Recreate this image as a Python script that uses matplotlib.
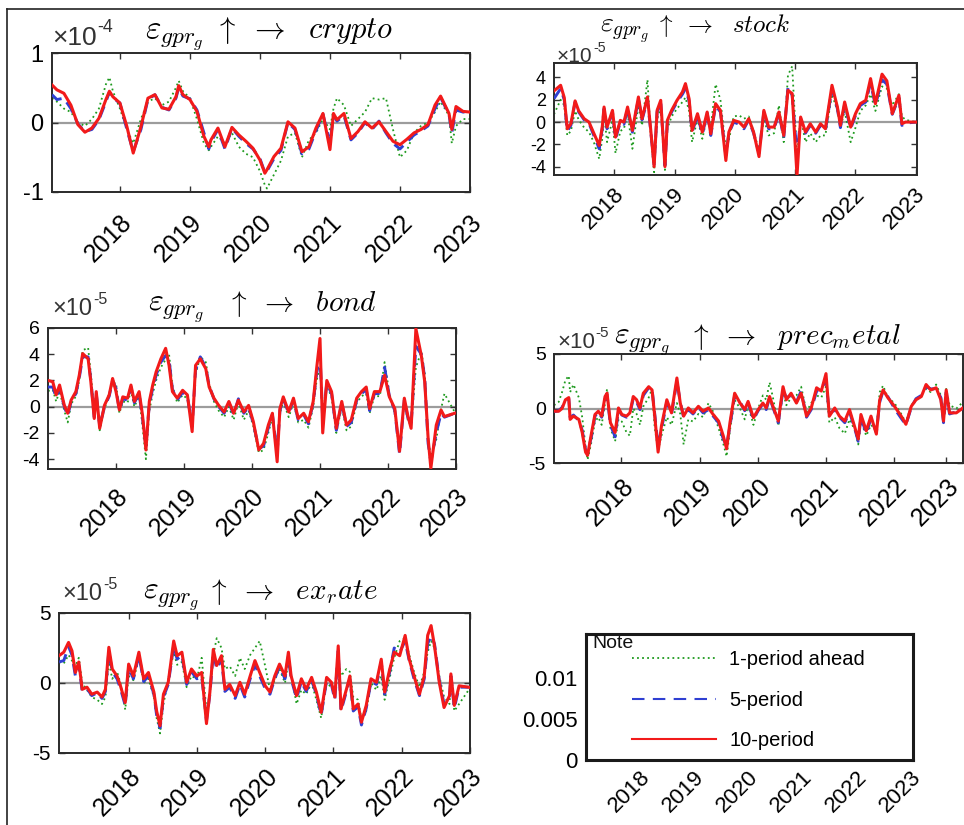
import matplotlib
matplotlib.use('Agg')
import matplotlib.pyplot as plt
import matplotlib.transforms as mtransforms
from matplotlib.lines import Line2D

plt.rcParams['font.family'] = ['Liberation Sans', 'DejaVu Sans']
plt.rcParams['mathtext.fontset'] = 'cm'
plt.rcParams['axes.unicode_minus'] = False

# ---------------- data (values in units of the x10^k label) ----------------
year_labels = ['2018', '2019', '2020', '2021', '2022', '2023']

# crypto, x1e-4
crypto_t = [2017.03, 2017.1, 2017.2, 2017.3, 2017.4, 2017.5, 2017.6, 2017.7, 2017.8, 2017.85,
            2017.9, 2018.0, 2018.1, 2018.19, 2018.3, 2018.4, 2018.5, 2018.6, 2018.7, 2018.8,
            2018.84, 2018.9, 2019.0, 2019.1, 2019.2, 2019.27, 2019.3, 2019.4, 2019.5, 2019.6,
            2019.7, 2019.8, 2019.9, 2020.0, 2020.07, 2020.1, 2020.2, 2020.3, 2020.4, 2020.5,
            2020.6, 2020.7, 2020.8, 2020.9, 2021.0, 2021.05, 2021.1, 2021.2, 2021.3, 2021.4,
            2021.5, 2021.6, 2021.7, 2021.8, 2021.9, 2022.0, 2022.1, 2022.2, 2022.3, 2022.4,
            2022.5, 2022.58, 2022.7, 2022.74, 2022.8, 2022.9, 2023.0]
crypto_10 = [0.54, 0.47, 0.42, 0.25, -0.03, -0.14, -0.08, 0.06, 0.33, 0.45,
             0.37, 0.28, -0.06, -0.44, -0.06, 0.35, 0.40, 0.21, 0.19, 0.37,
             0.53, 0.40, 0.33, 0.16, -0.20, -0.35, -0.25, -0.08, -0.35, -0.07,
             -0.18, -0.27, -0.37, -0.54, -0.73, -0.68, -0.49, -0.37, 0.01, -0.08,
             -0.42, -0.35, -0.08, 0.13, -0.39, 0.13, 0.04, 0.13, -0.23, -0.13,
             0.01, -0.08, 0.01, -0.13, -0.27, -0.32, -0.24, -0.15, -0.10, -0.03,
             0.25, 0.38, 0.13, -0.10, 0.23, 0.16, 0.15]
crypto_5 = [0.40, 0.33, 0.35, 0.20, -0.02, -0.13, -0.10, 0.04, 0.30, 0.44,
            0.35, 0.28, -0.10, -0.42, -0.10, 0.33, 0.40, 0.22, 0.18, 0.35,
            0.50, 0.38, 0.34, 0.18, -0.15, -0.38, -0.28, -0.10, -0.38, -0.08,
            -0.20, -0.30, -0.38, -0.52, -0.72, -0.70, -0.52, -0.40, 0.00, -0.10,
            -0.45, -0.38, -0.12, 0.12, -0.30, 0.10, 0.02, 0.10, -0.25, -0.15,
            0.00, -0.10, 0.02, -0.15, -0.30, -0.38, -0.28, -0.18, -0.12, -0.05,
            0.20, 0.36, 0.12, -0.15, 0.18, 0.15, 0.15]
crypto_1 = [0.35, 0.30, 0.20, 0.15, 0.00, -0.05, 0.05, 0.20, 0.55, 0.65,
            0.45, 0.20, -0.10, -0.30, 0.05, 0.30, 0.35, 0.25, 0.30, 0.50,
            0.60, 0.45, 0.35, 0.05, -0.30, -0.40, -0.35, -0.20, -0.30, -0.15,
            -0.35, -0.45, -0.50, -0.70, -0.90, -0.95, -0.75, -0.55, -0.20, -0.15,
            -0.50, -0.25, -0.15, 0.05, -0.10, 0.20, 0.35, 0.25, -0.05, 0.05,
            0.15, 0.35, 0.33, 0.35, -0.10, -0.50, -0.40, -0.15, -0.05, 0.00,
            0.15, 0.30, 0.10, -0.30, -0.05, 0.05, 0.05]

# stock, x1e-5
stock_t = [2017.00, 2017.11, 2017.17, 2017.22, 2017.28, 2017.35, 2017.41, 2017.50, 2017.58, 2017.66,
           2017.75, 2017.80, 2017.83, 2017.88, 2017.97, 2018.02, 2018.10, 2018.16, 2018.22, 2018.30,
           2018.40, 2018.46, 2018.55, 2018.60, 2018.66, 2018.71, 2018.77, 2018.84, 2018.88, 2018.95,
           2019.04, 2019.13, 2019.18, 2019.24, 2019.29, 2019.38, 2019.46, 2019.54, 2019.60, 2019.68,
           2019.76, 2019.85, 2019.90, 2019.98, 2020.07, 2020.15, 2020.23, 2020.31, 2020.40, 2020.48,
           2020.56, 2020.65, 2020.73, 2020.81, 2020.88, 2020.95, 2021.03, 2021.09, 2021.17, 2021.25,
           2021.34, 2021.42, 2021.50, 2021.61, 2021.70, 2021.75, 2021.82, 2021.92, 2022.00, 2022.08,
           2022.17, 2022.25, 2022.33, 2022.44, 2022.52, 2022.61, 2022.72, 2022.77, 2022.83, 2023.00]
stock_10 = [2.8, 3.3, 2.2, -0.6, -0.15, 1.9, 1.0, 0.3, 0.0, -1.0,
            -2.1, -0.45, 1.35, -0.45, 1.05, -1.35, 0.15, 0.0, 1.35, -0.75,
            2.25, 0.3, 2.25, -0.45, -4.0, 1.05, 1.95, -4.0, 0.15, 1.05,
            1.95, 2.7, 3.45, 2.1, -0.75, 0.75, -0.9, 0.9, -1.05, 1.65,
            1.05, -3.45, -0.9, 0.15, 0.0, -0.45, 0.3, -0.9, -3.1, 1.05,
            -0.45, -0.45, 0.9, -1.2, 2.85, 2.55, -4.8, 0.45, -0.9, -0.15,
            -0.9, -0.15, -0.6, 3.3, 1.35, -0.3, 1.8, -0.45, 0.75, 1.65,
            1.95, 3.9, 1.65, 4.3, 3.7, 0.75, 2.4, -0.15, 0.0, 0.0]
stock_5 = [2.1, 3.0, 2.0, -0.8, -0.3, 1.8, 0.9, 0.2, -0.1, -1.2,
           -2.4, -0.6, 1.2, -0.6, 0.9, -1.5, 0.0, -0.2, 1.2, -0.9,
           2.1, 0.2, 2.0, -0.6, -3.8, 0.9, 1.8, -3.9, 0.0, 0.9,
           1.8, 2.5, 3.0, 1.9, -0.9, 0.6, -1.1, 0.8, -1.2, 1.5,
           0.9, -3.0, -1.0, 0.0, -0.2, -0.6, 0.2, -1.0, -2.8, 0.9,
           -0.6, -0.6, 0.8, -1.4, 3.1, 2.4, -3.0, 0.3, -1.0, -0.3,
           -1.0, -0.3, -0.8, 3.0, 1.2, -0.5, 1.6, -0.6, 0.6, 1.5,
           1.8, 3.5, 1.5, 3.8, 3.4, 0.7, 2.2, -0.3, -0.1, 0.0]
stock_1 = [0.7, 2.0, 1.5, -1.2, -0.8, 1.0, 0.2, -0.5, -0.9, -1.8,
           -3.3, -1.5, 0.8, -1.8, 0.2, -2.8, -0.8, -0.6, 0.8, -2.4,
           1.5, -0.3, 3.8, -0.8, -4.5, 0.3, 1.2, -4.3, -0.6, 0.5,
           1.2, 1.8, 2.2, 1.0, -1.8, 0.3, -1.5, 0.5, -0.5, 3.4,
           2.0, -2.5, -1.6, 0.5, 0.6, 0.3, 0.5, -0.8, -2.6, 0.3,
           -1.2, -1.0, 1.5, -1.8, 4.2, 5.0, -3.2, 0.5, -1.8, -1.0,
           -1.8, -1.2, -1.2, 2.5, 1.0, -0.5, 1.0, -1.8, -0.5, 1.0,
           1.5, 2.5, 1.0, 3.2, 3.0, 1.5, 2.5, 0.5, 0.2, 0.0]

# bond, x1e-5
bond_t = [2017.00, 2017.07, 2017.12, 2017.17, 2017.24, 2017.29, 2017.34, 2017.41, 2017.46, 2017.51,
          2017.59, 2017.63, 2017.68, 2017.71, 2017.76, 2017.83, 2017.90, 2017.95, 2018.00, 2018.05,
          2018.10, 2018.17, 2018.22, 2018.27, 2018.34, 2018.39, 2018.44, 2018.49, 2018.54, 2018.59,
          2018.66, 2018.73, 2018.78, 2018.83, 2018.90, 2018.98, 2019.05, 2019.12, 2019.17, 2019.24,
          2019.32, 2019.37, 2019.44, 2019.51, 2019.59, 2019.66, 2019.73, 2019.80, 2019.88, 2019.95,
          2020.02, 2020.10, 2020.17, 2020.24, 2020.30, 2020.37, 2020.41, 2020.46, 2020.54, 2020.61,
          2020.68, 2020.76, 2020.83, 2020.90, 2020.95, 2021.00, 2021.04, 2021.10, 2021.17, 2021.24,
          2021.32, 2021.39, 2021.46, 2021.54, 2021.61, 2021.68, 2021.73, 2021.80, 2021.88, 2021.95,
          2022.02, 2022.10, 2022.17, 2022.24, 2022.29, 2022.34, 2022.41, 2022.49, 2022.54, 2022.59,
          2022.63, 2022.71, 2022.78, 2022.83, 2022.98]
bond_10 = [2.0, 1.9, 0.9, 1.65, 0.1, -0.5, 0.5, 1.15, 2.4, 4.05,
           3.65, 1.9, -0.9, 1.15, -1.65, 0.1, 0.9, 2.15, 1.15, -0.25,
           0.75, 0.65, 1.65, 0.4, 1.15, -0.65, -3.3, 0.4, 1.65, 2.65,
           3.65, 4.45, 3.15, 1.15, 0.65, 1.25, 0.9, -1.9, 3.15, 3.65,
           2.9, 1.5, 0.65, 0.1, -0.4, 0.4, -0.5, 0.5, -0.4, 0.1,
           -1.15, -3.3, -2.8, -1.4, -0.5, -4.2, -0.15, 0.75, -0.4, 0.65,
           -0.9, -0.5, -1.15, 0.4, 2.9, 5.2, -2.0, 2.0, 1.15, -1.65,
           0.4, -1.4, -1.0, 0.65, 1.15, 1.5, -0.15, 1.15, 1.15, 2.4,
           0.75, -0.15, -3.4, 0.65, -0.65, -1.65, 5.95, 3.9, 1.9, -2.4,
           -4.7, -1.4, -0.25, -0.75, -0.5]
bond_5 = [1.5, 1.5, 0.7, 1.4, 0.0, -0.7, 0.4, 1.0, 2.2, 3.8,
          3.8, 2.0, -0.8, 1.0, -1.5, 0.0, 0.8, 2.0, 1.4, -0.3,
          0.6, 0.5, 1.5, 0.3, 1.0, -0.9, -3.0, 0.2, 1.4, 2.4,
          3.4, 3.9, 3.6, 1.3, 0.5, 1.1, 0.8, -1.5, 2.8, 3.8,
          3.0, 1.6, 0.6, 0.0, -0.5, 0.3, -0.6, 0.6, -0.5, 0.0,
          -1.3, -3.2, -3.0, -1.6, -0.6, -3.5, -0.3, 0.6, -0.5, 0.5,
          -1.0, -0.6, -1.3, 0.3, 2.5, 4.0, -1.0, 1.8, 1.0, -1.8,
          0.3, -1.5, -1.2, 0.5, 1.0, 1.3, -0.3, 1.0, 1.0, 3.0,
          0.8, -0.3, -3.6, 0.5, -0.8, -1.4, 4.6, 4.0, 2.2, -2.8,
          -4.2, -2.0, -0.5, -0.8, -0.5]
bond_1 = [1.2, 1.3, 0.4, 1.2, -0.3, -1.2, 0.2, 0.8, 2.0, 4.3,
          4.5, 2.5, -0.5, 0.8, -1.8, -0.2, 1.0, 1.8, 1.8, -0.5,
          0.4, 0.3, 1.2, 0.0, 0.8, -1.5, -4.0, -0.3, 1.0, 2.0,
          3.0, 3.6, 4.0, 1.6, 0.3, 0.9, 0.6, -1.2, 2.5, 3.8,
          3.4, 1.8, 0.4, -0.3, -0.8, 0.0, -1.0, 0.3, -1.0, -0.3,
          -1.5, -3.5, -3.3, -2.0, -0.8, -3.0, -0.5, 0.4, -0.8, 0.3,
          -1.2, -1.0, -1.6, 0.0, 2.0, 3.0, -0.5, 1.5, 0.8, -2.0,
          0.0, -1.8, -1.5, 0.3, 0.8, 1.0, -0.5, 0.8, 0.8, 3.4,
          1.0, -0.5, -3.4, 0.3, -1.0, -1.5, 3.0, 4.2, 2.6, -2.5,
          -3.8, -2.5, -0.2, 1.0, -0.4]

# precious metal, x1e-5 (axis positions; year ticks are unevenly placed)
prec_t = [2017.00, 2017.07, 2017.12, 2017.17, 2017.22, 2017.24, 2017.29, 2017.37, 2017.42, 2017.47,
          2017.50, 2017.56, 2017.61, 2017.66, 2017.71, 2017.76, 2017.79, 2017.84, 2017.91, 2017.96,
          2018.01, 2018.08, 2018.13, 2018.18, 2018.23, 2018.28, 2018.33, 2018.41, 2018.46, 2018.50,
          2018.55, 2018.60, 2018.68, 2018.75, 2018.83, 2018.88, 2018.93, 2019.00, 2019.07, 2019.15,
          2019.22, 2019.30, 2019.37, 2019.45, 2019.52, 2019.57, 2019.62, 2019.69, 2019.77, 2019.84,
          2019.89, 2019.97, 2020.04, 2020.11, 2020.16, 2020.21, 2020.26, 2020.34, 2020.41, 2020.46,
          2020.53, 2020.61, 2020.68, 2020.76, 2020.83, 2020.91, 2020.98, 2021.05, 2021.10, 2021.18,
          2021.25, 2021.33, 2021.40, 2021.48, 2021.53, 2021.57, 2021.65, 2021.72, 2021.80, 2021.85,
          2021.90, 2021.97, 2022.07, 2022.17, 2022.24, 2022.32, 2022.39, 2022.47, 2022.54, 2022.61,
          2022.69, 2022.76, 2022.80, 2022.84, 2022.89, 2022.99, 2023.09]
prec_ticks = [2018.0, 2019.17, 2020.04, 2021.05, 2022.07, 2022.84]
prec_10 = [-0.25, -0.25, 0.0, 0.8, 1.0, -1.0, -0.7, -1.0, -2.2, -4.0,
           -4.3, -2.2, -0.55, -0.25, -0.7, 1.1, 1.4, -1.3, -2.2, 0.05,
           -0.55, -0.7, -0.4, 1.1, 0.8, 0.05, 1.4, 2.0, 1.7, -0.7,
           -4.0, -1.6, 0.8, -0.4, 2.8, 0.5, -0.7, 0.05, -0.4, 0.2,
           -0.25, 0.05, -0.55, -1.15, -2.5, -3.7, -1.3, 1.4, 0.5, -0.1,
           0.65, -0.85, -0.1, 0.5, 0.05, 1.1, 0.2, -1.15, 2.0, 0.8,
           1.4, 0.5, 1.4, -0.7, 0.05, 1.9, 1.6, 3.2, -0.7, 0.05,
           -0.7, -1.15, -0.1, -1.75, -2.8, -0.55, -2.05, -0.7, -2.35, 0.8,
           1.7, 1.0, 0.2, -0.7, -1.45, 0.2, 0.8, 1.1, 2.2, 1.7,
           1.9, 0.8, -1.15, 1.7, -0.4, -0.4, 0.05]
prec_5 = [-0.3, -0.2, 0.1, 0.7, 0.9, -0.8, -0.6, -1.1, -2.0, -3.8,
          -4.1, -2.5, -0.7, -0.3, -0.8, 0.9, 1.2, -1.5, -2.6, -0.1,
          -0.6, -0.8, -0.5, 0.9, 0.6, -0.1, 1.2, 1.9, 1.8, -0.5,
          -3.5, -1.9, 0.6, -0.5, 2.5, 0.6, -0.8, -0.1, -0.5, 0.1,
          -0.4, -0.1, -0.7, -1.3, -2.8, -3.4, -1.6, 1.2, 0.6, -0.2,
          0.5, -1.0, -0.2, 0.4, -0.1, 1.0, 0.1, -1.3, 1.7, 1.0,
          1.2, 0.6, 1.6, -0.8, -0.1, 1.6, 1.8, 2.6, -0.5, -0.1,
          -0.8, -1.3, -0.3, -1.9, -3.0, -0.8, -2.3, -0.9, -2.2, 0.6,
          1.6, 1.1, 0.0, -0.9, -1.5, 0.1, 0.9, 1.2, 2.0, 1.8,
          1.8, 1.0, -1.3, 1.5, -0.5, -0.3, 0.0]
prec_1 = [0.3, 0.6, 1.5, 2.6, 3.0, 1.5, 2.2, 1.0, -0.8, -3.5,
          -4.7, -3.0, -1.2, -0.8, -1.5, 0.5, 1.8, -1.8, -3.0, -1.0,
          -1.2, -2.2, -2.5, 0.0, -0.5, -1.5, 0.2, 1.0, 1.8, -1.8,
          -3.8, -2.5, -0.8, -1.5, 0.5, -0.5, -3.3, -1.0, -1.2, -0.5,
          -0.8, 0.5, -0.3, -1.8, -3.2, -4.4, -2.0, 0.8, 0.0, -1.0,
          0.3, -1.5, 0.0, 1.2, 0.8, 2.4, 1.0, -1.6, 1.5, 0.3,
          1.0, 1.2, 2.0, -0.3, 0.5, 1.2, 1.0, 2.0, -1.3, -0.8,
          -1.8, -2.3, -1.0, -2.0, -3.3, -1.2, -2.5, -1.5, -2.0, 1.5,
          2.1, 1.0, 0.5, -0.5, -1.3, 0.3, 0.8, 1.2, 1.8, 1.5,
          2.2, 1.2, -0.5, 1.8, 0.3, 0.0, 0.6]

# exchange rate, x1e-5
exr_t = [2016.98, 2017.05, 2017.12, 2017.17, 2017.22, 2017.27, 2017.32, 2017.39, 2017.46, 2017.54,
         2017.61, 2017.66, 2017.71, 2017.76, 2017.83, 2017.88, 2017.95, 2018.00, 2018.07, 2018.15,
         2018.22, 2018.29, 2018.37, 2018.41, 2018.46, 2018.51, 2018.58, 2018.66, 2018.71, 2018.78,
         2018.85, 2018.92, 2019.00, 2019.07, 2019.14, 2019.19, 2019.24, 2019.29, 2019.36, 2019.41,
         2019.48, 2019.56, 2019.63, 2019.70, 2019.78, 2019.85, 2019.92, 2020.00, 2020.07, 2020.14,
         2020.21, 2020.29, 2020.34, 2020.38, 2020.46, 2020.53, 2020.60, 2020.68, 2020.75, 2020.82,
         2020.90, 2020.97, 2021.02, 2021.07, 2021.11, 2021.19, 2021.24, 2021.29, 2021.36, 2021.41,
         2021.48, 2021.55, 2021.63, 2021.70, 2021.75, 2021.82, 2021.89, 2021.97, 2022.05, 2022.11,
         2022.18, 2022.26, 2022.33, 2022.38, 2022.43, 2022.48, 2022.55, 2022.62, 2022.70, 2022.72,
         2022.77, 2022.84, 2022.98]
exr_10 = [1.95, 2.2, 2.9, 2.3, 0.75, 1.5, -0.45, -0.3, -0.8, -0.65,
          -1.0, -0.45, 2.55, 1.0, 0.5, -0.2, -1.4, 1.35, 0.5, 2.2,
          0.3, 0.75, -0.65, -2.0, -3.05, -0.8, 0.05, 3.0, 1.95, 2.2,
          0.05, 1.0, 0.5, 0.75, -2.9, -0.65, 2.4, 1.25, 1.95, -0.45,
          -0.1, -0.9, 0.05, -0.8, 0.5, 1.6, 0.75, -0.2, -0.65, 0.5,
          1.35, 0.5, 2.2, 0.5, -0.9, 0.3, -0.45, 0.4, -0.65, -2.1,
          0.4, 0.05, -1.0, 2.65, -1.85, -0.45, 0.5, -1.85, -1.5, -2.8,
          -1.6, 0.3, 0.05, 1.7, -0.65, 0.9, 2.2, 1.95, 3.4, 1.7,
          0.5, -0.8, 0.5, 3.4, 4.1, 2.65, 0.05, -1.75, -0.9, 0.65,
          -1.6, -0.2, -0.3]
exr_5 = [1.5, 1.6, 2.6, 2.0, 0.5, 1.3, -0.6, -0.4, -0.9, -0.7,
         -1.1, -0.6, 2.3, 0.8, 0.3, -0.4, -1.6, 1.1, 0.3, 2.0,
         0.1, 0.5, -0.8, -2.3, -3.2, -1.0, -0.1, 2.7, 1.7, 2.0,
         -0.1, 0.8, 0.3, 0.5, -2.7, -0.8, 2.2, 1.0, 1.7, -0.6,
         -0.3, -1.1, -0.1, -1.0, 0.3, 1.3, 0.5, -0.4, -0.8, 0.3,
         1.2, 0.3, 1.9, 0.3, -1.1, 0.1, -0.6, 0.2, -0.8, -2.3,
         0.2, -0.1, -1.2, 2.3, -2.0, -0.6, 0.3, -2.0, -1.7, -3.0,
         -1.8, 0.1, -0.1, 1.5, -0.8, 0.7, 2.5, 2.2, 3.0, 1.6,
         0.3, -0.9, 0.3, 2.8, 3.4, 2.8, 0.2, -1.5, -1.0, 0.5,
         -1.8, -0.3, -0.3]
exr_1 = [1.5, 1.4, 2.0, 1.6, 1.2, 1.8, 0.0, -0.5, -1.0, -1.2,
         -1.5, -1.0, 1.5, 0.3, 0.8, 0.0, -1.9, 0.5, 0.2, 1.8,
         0.0, 0.3, -1.0, -2.5, -3.6, -1.5, 0.2, 2.2, 1.3, 1.5,
         -0.3, 0.5, 0.3, 1.8, -2.0, -0.8, 2.0, 3.2, 2.5, 1.0,
         1.2, 0.5, 1.8, 1.0, 2.0, 2.5, 3.0, 1.2, -0.5, 0.2,
         1.0, 0.0, 1.5, 0.6, -1.5, -0.5, -0.8, 0.0, -1.2, -2.5,
         0.0, -0.3, -0.5, 1.8, 0.5, 1.0, 0.8, -1.0, -1.2, -2.6,
         -2.0, 0.0, -0.5, 0.5, -1.2, 0.3, 1.8, 3.0, 3.2, 2.0,
         0.8, -0.3, 0.8, 2.2, 3.0, 2.5, 0.5, -1.0, -1.5, 0.3,
         -2.0, -1.5, -0.5]

legend_labels = ['1-period ahead', '5-period', '10-period']

GREEN = '#1e9a1e'
BLUE = '#2f3fd2'
RED = '#f21a1a'

W, H = 964, 825
fig = plt.figure(figsize=(W / 100, H / 100), dpi=100)


def box(l, t, r, b):
    # pixel box -> figure fraction
    return [l / W, 1 - b / H, (r - l) / W, (b - t) / H]


def ftext(x, y, s, **kw):
    return fig.text(x / W, 1 - y / H, s, **kw)


def panel(rect, t, g, b, r, xlim, ylim, yticks, xticks, ysize, xsize, pad):
    ax = fig.add_axes(rect)
    ax.axhline(0, color='#9c9c9c', lw=1.6, zorder=1)
    ax.plot(t, g, color=GREEN, ls=(0, (1, 1.8)), lw=1.3, zorder=2)
    ax.plot(t, b, color=BLUE, ls=(0, (4, 2.5)), lw=2.1, zorder=3)
    ax.plot(t, r, color=RED, lw=2.2, zorder=4)
    ax.set_xlim(*xlim)
    ax.set_ylim(*ylim)
    ax.set_yticks(yticks)
    ax.set_yticklabels([('%g' % v) for v in yticks], fontsize=ysize)
    ax.set_xticks(xticks)
    ax.set_xticklabels(year_labels, rotation=45, ha='center', fontsize=xsize)
    ax.tick_params(direction='in', length=4, width=1, top=True, right=True, color='#333333')
    ax.tick_params(axis='x', pad=pad)
    ax.tick_params(axis='y', pad=6)
    shift = mtransforms.ScaledTranslation(-0.11, 0, fig.dpi_scale_trans)
    for lab in ax.get_xticklabels():
        lab.set_transform(lab.get_transform() + shift)
    for s in ax.spines.values():
        s.set_linewidth(1.4)
        s.set_color('#2a2a2a')
    return ax


def exponent(x, y, power, size):
    ftext(x, y, '\u00d710', fontsize=size, va='center', ha='left', color='#333333')
    ftext(x + size * 2.4, y - size * 0.55, power, fontsize=size * 0.68, va='center', ha='left',
          color='#333333')


def title(x_eps, x_arrow, y, word, s_eps, s_word):
    ftext(x_eps, y, r'$\varepsilon_{gpr_g}$', fontsize=s_eps, ha='left', va='baseline')
    ftext(x_arrow, y, r'$\uparrow\ \rightarrow\ \ %s$' % word, fontsize=s_word, ha='left', va='baseline')


years = [2018, 2019, 2020, 2021, 2022, 2023]

# crypto
panel(box(52, 53, 470, 192), crypto_t, crypto_1, crypto_5, crypto_10,
      (2017.03, 2023.0), (-1, 1), [-1, 0, 1], years, 17, 18, 13)
exponent(52, 38, '-4', 19)
title(145, 214, 38, 'crypto', 24, 22)

# stock
panel(box(554, 63, 917, 175), stock_t, stock_1, stock_5, stock_10,
      (2017.0, 2023.02), (-4.75, 5.3), [-4, -2, 0, 2, 4], years, 13, 16, 6)
exponent(557, 56, '-5', 15)
title(600, 655, 32, 'stock', 20, 18)

# bond
panel(box(48, 328, 456, 469), bond_t, bond_1, bond_5, bond_10,
      (2017.0, 2023.0), (-4.75, 6), [-4, -2, 0, 2, 4, 6], years, 14, 18, 11)
exponent(52, 309, '-5', 17)
title(148, 226, 311, 'bond', 23, 21)

# precious metal
panel(box(554, 354, 963, 463), prec_t, prec_1, prec_5, prec_10,
      (2017.0, 2023.09), (-5, 5), [-5, 0, 5], prec_ticks, 14, 18, 8)
exponent(557, 342, '-5', 16)
title(614, 688, 344, 'prec_metal', 23, 21)

# exchange rate
panel(box(59, 613, 470, 753), exr_t, exr_1, exr_5, exr_10,
      (2016.98, 2023.0), (-5, 5), [-5, 0, 5], years, 15, 18, 8)
exponent(62, 594, '-5', 17)
title(143, 206, 599, 'ex_rate', 23, 21)

# legend panel
ax6 = fig.add_axes(box(586, 634, 913, 760))
ax6.set_xlim(2017.05, 2023.09)
ax6.set_ylim(0, 0.0154)
ax6.set_yticks([0, 0.005, 0.01])
ax6.set_yticklabels(['0', '0.005', '0.01'], fontsize=16)
ax6.set_xticks(years)
ax6.set_xticklabels(year_labels, rotation=45, ha='center', fontsize=16)
ax6.tick_params(length=0, pad=5)
ax6.tick_params(axis='y', pad=6)
shift6 = mtransforms.ScaledTranslation(-0.08, 0, fig.dpi_scale_trans)
for lab in ax6.get_xticklabels():
    lab.set_transform(lab.get_transform() + shift6)
for s in ax6.spines.values():
    s.set_linewidth(2.2)
    s.set_color('#1a1a1a')
handles = [Line2D([], [], color=GREEN, ls=(0, (1, 1.8)), lw=1.3),
           Line2D([], [], color=BLUE, ls=(0, (6, 4)), lw=1.5),
           Line2D([], [], color=RED, lw=1.5)]
ax6.legend(handles, legend_labels, loc='upper left', bbox_to_anchor=(0.14, 0.87), frameon=False,
           fontsize=14.5, handlelength=4.2, handletextpad=0.65, labelspacing=1.07,
           borderpad=0, borderaxespad=0)
ax6.text(0.02, 0.995, 'Note', transform=ax6.transAxes, fontsize=14, va='top', ha='left', color='#111111')

# outer frame
fig.add_artist(Line2D([7 / W, 7 / W], [0, 1 - 9 / H], transform=fig.transFigure, color='#222222', lw=1.2))
fig.add_artist(Line2D([7 / W, 1], [1 - 9 / H, 1 - 9 / H], transform=fig.transFigure, color='#222222', lw=1.2))

fig.savefig('out.png', dpi=100)
